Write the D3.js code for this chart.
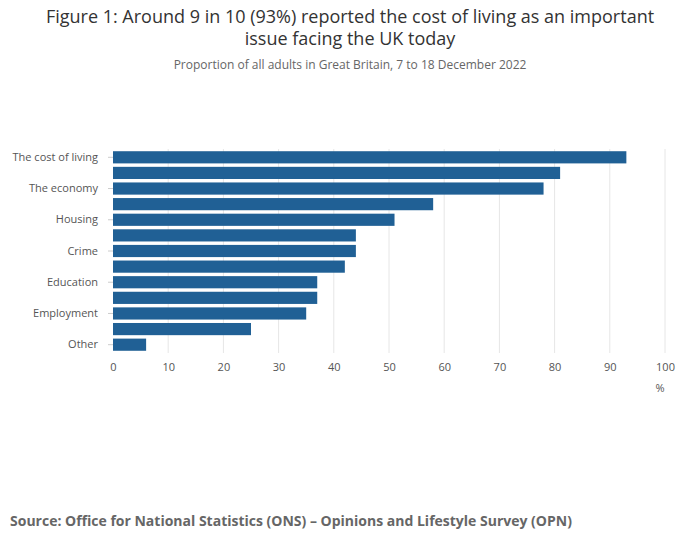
<!DOCTYPE html>
<html><head><meta charset="utf-8">
<script src="https://cdn.jsdelivr.net/npm/d3@7"></script>
<style>body{margin:0;background:#fff;font-family:"Open Sans",sans-serif}</style>
</head><body><div id="chart"></div>
<script>
// Issues (only every other label is shown, as in the original)
const issues = ["The cost of living","The NHS","The economy","Climate change and the environment","Housing","International conflict","Crime","Immigration","Education","The Union","Employment","Terrorism","Other"];
const percents = [93, 81, 78, 58, 51, 44, 44, 42, 37, 37, 35, 25, 6];
const xTicks = [0,10,20,30,40,50,60,70,80,90,100];

const W = 700, H = 549;
const svg = d3.select("#chart").append("svg").attr("width", W).attr("height", H);

const x = d3.scaleLinear().domain([0,100]).range([113,665]);
const y = d3.scaleBand().domain(issues).range([149.5,352.5]).paddingInner(0.22).paddingOuter(0.11);

// grid
svg.append("g").selectAll("line").data(xTicks.slice(1)).join("line")
  .attr("x1", d => x(d)).attr("x2", d => x(d))
  .attr("y1", 149).attr("y2", 353).attr("stroke", "#e6e6e6");

// bars
svg.append("g").selectAll("rect").data(issues).join("rect")
  .attr("x", x(0)).attr("y", d => y(d))
  .attr("width", (d,i) => x(percents[i]) - x(0))
  .attr("height", y.bandwidth()).attr("fill", "#206095");

// y axis
const ya = svg.append("g").attr("transform", `translate(${x(0)},0)`)
  .call(d3.axisLeft(y).tickSize(0).tickPadding(15).tickFormat((d,i) => i % 2 === 0 ? d : ""));
ya.select(".domain").remove();
ya.selectAll("text").attr("fill", "#555").style("font-size", "11px").style("font-family", "Open Sans");
svg.append("g").selectAll("line").data(issues.filter((d,i)=>i%2===0)).join("line")
  .attr("x1", x(0)-5).attr("x2", x(0)).attr("y1", d=>y(d)+y.bandwidth()/2).attr("y2", d=>y(d)+y.bandwidth()/2)
  .attr("stroke","#ccc");

// x axis
const xa = svg.append("g").attr("transform", "translate(0,360)")
  .call(d3.axisBottom(x).tickValues(xTicks).tickSize(0).tickPadding(3));
xa.select(".domain").remove();
xa.selectAll("text").attr("fill", "#555").style("font-size", "11px").style("font-family", "Open Sans");
svg.append("text").attr("x", 660).attr("y", 392).attr("text-anchor","middle")
  .attr("fill","#555").style("font-size","11px").text("%");

// titles
const t = svg.append("text").attr("text-anchor","middle").attr("fill","#333").style("font-size","18px");
t.append("tspan").attr("x",350).attr("y",23).text("Figure 1: Around 9 in 10 (93%) reported the cost of living as an important");
t.append("tspan").attr("x",350).attr("y",45).text("issue facing the UK today");
svg.append("text").attr("x",350).attr("y",69).attr("text-anchor","middle").attr("fill","#666")
  .style("font-size","12px").text("Proportion of all adults in Great Britain, 7 to 18 December 2022");
svg.append("text").attr("x",10).attr("y",526).attr("fill","#666").style("font-size","14px").style("font-weight","bold")
  .text("Source: Office for National Statistics (ONS) – Opinions and Lifestyle Survey (OPN)");
</script></body></html>
